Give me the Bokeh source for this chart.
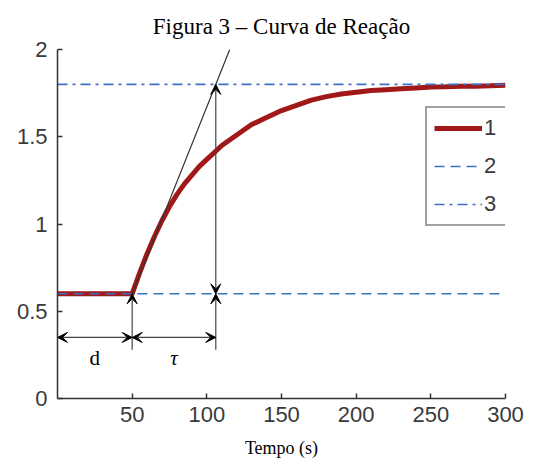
from bokeh.plotting import figure
from bokeh.models import Range1d, Arrow, VeeHead, Label, Legend, LegendItem, FixedTicker
from bokeh.embed import file_html
from bokeh.resources import INLINE

# ---- data ----
t = [0, 10, 20, 30, 40, 50, 55, 60, 65, 70, 75, 80, 85, 90, 95, 100, 105, 110,
     120, 130, 140, 150, 160, 170, 180, 190, 200, 210, 220, 230, 240, 250, 260,
     270, 280, 290, 300]
resp = [0.6, 0.6, 0.6, 0.6, 0.6, 0.6, 0.72, 0.83, 0.93, 1.02, 1.10, 1.17, 1.23,
        1.28, 1.33, 1.37, 1.41, 1.45, 1.51, 1.57, 1.61, 1.65, 1.68, 1.71, 1.73,
        1.745, 1.755, 1.765, 1.77, 1.775, 1.78, 1.785, 1.787, 1.79, 1.79, 1.792,
        1.795]
x_ticks = [50, 100, 150, 200, 250, 300]
y_ticks = [0, 0.5, 1, 1.5, 2]
legend_labels = ["1", "2", "3"]
title_text = "Figura 3 \u2013 Curva de Rea\u00e7\u00e3o"
dead_time = 50
tau_end = 106
y_initial = 0.6
y_final = 1.8
tangent_top = 2.0
dim_y = 0.35
ext_bottom = 0.28
x_min, x_max = 0, 300
y_min, y_max = 0, 2

RED = "#a01818"
BLUE = "#3d6fc6"
DARK = "#333333"

p = figure(width=533, height=460, x_range=Range1d(x_min, x_max),
           y_range=Range1d(y_min, y_max), output_backend="svg",
           toolbar_location=None, min_border_left=57, min_border_right=28,
           min_border_top=48, min_border_bottom=58)

p.title.text = title_text
p.title.text_font = "Liberation Serif"
p.title.text_font_size = "23px"
p.title.text_font_style = "normal"
p.title.text_line_height = 1.0
p.title.align = "center"
p.title.offset = 8
p.title.standoff = 22
p.title.text_color = "black"

p.grid.visible = False
p.outline_line_color = None
p.background_fill_color = "white"
p.border_fill_color = "white"

for ax in (p.xaxis[0], p.yaxis[0]):
    ax.axis_line_color = DARK
    ax.axis_line_width = 1.5
    ax.major_tick_in = 5
    ax.major_tick_out = 0
    ax.major_tick_line_color = DARK
    ax.major_tick_line_width = 1.5
    ax.minor_tick_line_color = None
    ax.major_label_text_font = "Liberation Sans"
    ax.major_label_text_font_size = "22px"
    ax.major_label_text_color = "#3a3a3a"

p.xaxis.ticker = FixedTicker(ticks=x_ticks)
p.yaxis.ticker = FixedTicker(ticks=y_ticks)
p.xaxis.major_label_standoff = 8
p.yaxis.major_label_standoff = 10
p.xaxis.axis_label = "Tempo (s)"
p.xaxis.axis_label_text_font = "Liberation Serif"
p.xaxis.axis_label_text_font_size = "18px"
p.xaxis.axis_label_text_font_style = "normal"
p.xaxis.axis_label_text_color = "black"
p.xaxis.axis_label_standoff = 13

# response curve
r1 = p.line(t, resp, line_color=RED, line_width=5)
# initial and final levels
r2 = p.line([x_min, x_max], [y_initial, y_initial], line_color=BLUE,
            line_width=1.6, line_dash="10 6")
r3 = p.line([x_min, x_max], [y_final, y_final], line_color=BLUE,
            line_width=1.6, line_dash="10 5 3 5")

# tangent line
slope = (y_final - y_initial) / (tau_end - dead_time)
t_top = dead_time + (tangent_top - y_initial) / slope
p.line([dead_time, t_top], [y_initial, tangent_top], line_color=DARK,
       line_width=1.2)

def head():
    return VeeHead(size=10, fill_color="black", line_color="black", line_width=1)

ARW = dict(line_color="#444444", line_width=1.2)
# vertical double arrow (tau end) from initial to final level
p.add_layout(Arrow(start=head(), end=head(), x_start=tau_end, y_start=y_initial,
                   x_end=tau_end, y_end=y_final, **ARW))
# extension lines with heads pointing up to the initial level
p.add_layout(Arrow(start=None, end=head(), x_start=tau_end, y_start=ext_bottom,
                   x_end=tau_end, y_end=y_initial, **ARW))
p.add_layout(Arrow(start=None, end=head(), x_start=dead_time, y_start=ext_bottom,
                   x_end=dead_time, y_end=y_initial, **ARW))
# dimension arrows d and tau
p.add_layout(Arrow(start=head(), end=head(), x_start=x_min, y_start=dim_y,
                   x_end=dead_time, y_end=dim_y, **ARW))
p.add_layout(Arrow(start=head(), end=head(), x_start=dead_time, y_start=dim_y,
                   x_end=tau_end, y_end=dim_y, **ARW))

p.add_layout(Label(x=dead_time / 2, y=dim_y - 0.05, text="d",
                   text_font="Liberation Serif", text_font_size="21px",
                   text_align="center", text_baseline="top", text_color="black"))
p.add_layout(Label(x=(dead_time + tau_end) / 2, y=dim_y - 0.05, text="\u03c4",
                   text_font="Liberation Serif", text_font_size="21px",
                   text_font_style="italic", text_align="center",
                   text_baseline="top", text_color="black"))

legend = Legend(items=[LegendItem(label=legend_labels[0], renderers=[r1]),
                       LegendItem(label=legend_labels[1], renderers=[r2]),
                       LegendItem(label=legend_labels[2], renderers=[r3])],
                location=(368, 172))
legend.label_text_font = "Liberation Sans"
legend.label_text_font_size = "22px"
legend.label_text_color = "#3a3a3a"
legend.glyph_width = 48
legend.glyph_height = 22
legend.spacing = 12
legend.padding = 7
legend.margin = 0
legend.label_standoff = 2
legend.border_line_color = "#444444"
legend.border_line_width = 2
legend.background_fill_alpha = 1
p.add_layout(legend)

open("out.html", "w").write(file_html(p, INLINE))
